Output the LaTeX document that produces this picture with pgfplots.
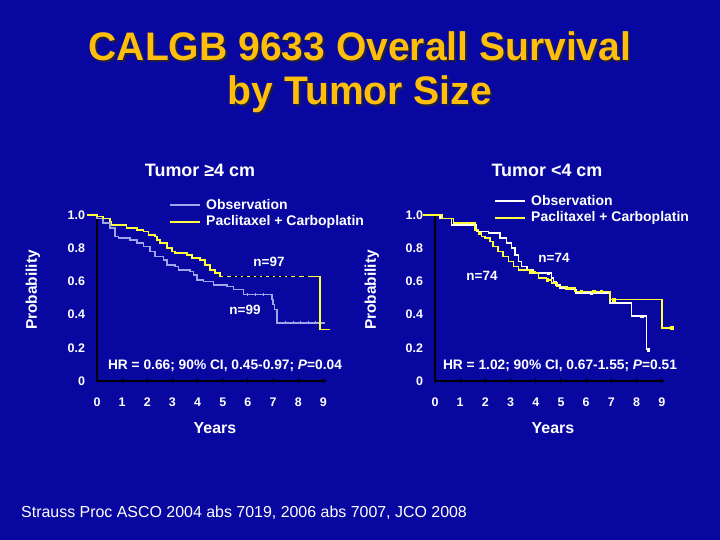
\documentclass[border=0pt]{standalone}
\usepackage{fontspec}
\setmainfont{Liberation Sans}
\usepackage{graphicx}
\usepackage{pgfplots}
\pgfplotsset{compat=1.18}
\definecolor{bg}{RGB}{8,8,160}
\definecolor{titlecol}{RGB}{255,190,10}
\definecolor{shadowcol}{RGB}{30,30,70}
\definecolor{obsL}{RGB}{160,165,235}
\definecolor{ylw}{RGB}{255,255,60}
\pgfplotsset{kmaxis/.style={
  scale only axis, width=228.9bp, height=166bp,
  xmin=0, xmax=9.1, ymin=0, ymax=1,
  axis x line=bottom, axis y line=left,
  axis line style={-, black, line width=1.3bp},
  xtick={0,1,2,3,4,5,6,7,8,9},
  xticklabels={0,1,2,3,4,5,6,7,8,9},
  ytick={0,0.2,0.4,0.6,0.8,1},
  yticklabels={0,0.2,0.4,0.6,0.8,1.0},
  tick label style={text=white, font=\bfseries\fontsize{12.5}{13}\selectfont},
  /pgf/number format/assume math mode=true,
  xtick style={black, line width=1bp},
  ytick style={draw=none},
  tick align=center, major tick length=5bp,
  xticklabel style={yshift=-11bp},
  yticklabel style={xshift=-6bp},
  clip=false,
}}
\begin{document}
\begin{tikzpicture}
\fill[bg] (0,0) rectangle (720bp,540bp);
\useasboundingbox (0,0) rectangle (720bp,540bp);
% title
\foreach \dx/\dy/\col in {2bp/-2bp/shadowcol, 0bp/0bp/titlecol}{
  \node[anchor=base, text=\col, inner sep=0] at ([xshift=\dx,yshift=\dy]360bp,479bp)
    {\scalebox{0.98}[1]{\fontsize{40}{40}\selectfont\bfseries CALGB 9633 Overall Survival}};
  \node[anchor=base, text=\col, inner sep=0] at ([xshift=\dx,yshift=\dy]360bp,435bp)
    {\scalebox{0.98}[1]{\fontsize{40}{40}\selectfont\bfseries by Tumor Size}};
}
% subtitles
\node[anchor=base, text=white, inner sep=0, font=\bfseries\fontsize{18}{18}\selectfont] at (200bp,363bp) {Tumor ≥4 cm};
\node[anchor=base, text=white, inner sep=0, font=\bfseries\fontsize{18}{18}\selectfont] at (547bp,363bp) {Tumor <4 cm};

% left axis
\begin{axis}[kmaxis, at={(97bp,159bp)}, anchor=south west]
\addplot[const plot, color=obsL, line width=1.6bp] coordinates {
(-0.4,1.0) (0,0.98) (0.25,0.95) (0.52,0.92) (0.72,0.87) (0.85,0.86) (1.31,0.85)
(1.58,0.83) (1.85,0.81) (2.11,0.78) (2.31,0.75) (2.64,0.73) (2.78,0.70) (3.11,0.69)
(3.24,0.67) (3.7,0.66) (3.84,0.64) (3.97,0.61) (4.24,0.60) (4.63,0.58) (5.17,0.57)
(5.43,0.55) (5.83,0.52) (6.96,0.49) (7.0,0.46) (7.05,0.43) (7.16,0.35) (9.08,0.35)};
\addplot[only marks, mark=|, mark size=1.6bp, obsL, line width=1bp] coordinates {
(6.0,0.52) (6.3,0.52) (6.6,0.52) (7.5,0.35) (7.8,0.35) (8.1,0.35) (8.4,0.35) (8.7,0.35)};
\addplot[const plot, color=ylw, line width=1.6bp] coordinates {
(-0.4,1.0) (0,0.99) (0.25,0.98) (0.52,0.96) (0.58,0.94) (1.18,0.92) (1.58,0.91)
(1.85,0.90) (2.04,0.88) (2.31,0.87) (2.38,0.85) (2.51,0.83) (2.78,0.80) (2.98,0.78)
(3.11,0.77) (3.57,0.76) (3.77,0.74) (4.1,0.73) (4.3,0.70) (4.5,0.67) (4.7,0.65)
(4.9,0.63) (8.86,0.31) (9.28,0.31)};
\addplot[only marks, mark=-, mark size=2bp, black, line width=1.4bp] coordinates {
(5.1,0.63) (5.4,0.63) (5.65,0.63) (5.9,0.63) (6.15,0.63) (6.4,0.63) (6.65,0.63)
(6.9,0.63) (7.15,0.63) (7.4,0.63) (7.65,0.63) (7.95,0.63) (8.3,0.63)};
\end{axis}

% right axis
\begin{axis}[kmaxis, width=229.3bp, at={(435bp,159bp)}, anchor=south west]
\addplot[const plot, color=white, line width=1.6bp] coordinates {
(-0.46,1.0) (0.2,0.98) (0.66,0.94) (1.65,0.90) (2.12,0.89) (2.58,0.86) (2.84,0.83)
(3.04,0.80) (3.17,0.76) (3.31,0.72) (3.44,0.69) (3.64,0.67) (3.9,0.65) (4.63,0.62)
(4.7,0.60) (4.8,0.58) (4.95,0.56) (5.3,0.55) (5.6,0.53) (6.94,0.47) (7.8,0.39)
(8.4,0.19) (8.46,0.19)};
\addplot[only marks, mark=square*, mark size=1.3bp, white] coordinates {
(4.5,0.65) (8.2,0.39) (8.46,0.19) (6.2,0.53)};
\addplot[const plot, color=ylw, line width=1.6bp] coordinates {
(-0.46,1.0) (0.27,0.98) (0.73,0.95) (1.59,0.91) (1.72,0.89) (1.85,0.87) (1.98,0.86)
(2.18,0.84) (2.31,0.81) (2.51,0.78) (2.71,0.75) (2.91,0.72) (3.11,0.69) (3.31,0.67)
(3.77,0.66) (3.97,0.65) (4.1,0.62) (4.43,0.61) (4.63,0.59) (4.83,0.57) (5.23,0.56)
(5.56,0.54) (6.94,0.49) (9.0,0.32) (9.39,0.32)};
\addplot[only marks, mark=square*, mark size=1.3bp, ylw] coordinates {
(1.75,0.89) (3.8,0.66) (4.45,0.61) (5.2,0.56) (5.3,0.56) (5.8,0.54) (6.3,0.54)
(6.6,0.54) (7.1,0.49) (9.39,0.32)};
\end{axis}

% axis labels
\node[text=white, font=\bfseries\fontsize{16}{16}\selectfont] at (215bp,112bp) {Years};
\node[text=white, font=\bfseries\fontsize{16}{16}\selectfont] at (553bp,112bp) {Years};
\node[text=white, rotate=90, font=\bfseries\fontsize{15.5}{16}\selectfont] at (33bp,250bp) {Probability};
\node[text=white, rotate=90, font=\bfseries\fontsize{15.5}{16}\selectfont] at (372bp,250bp) {Probability};

% legends
\draw[obsL, line width=1.6bp] (170bp,335bp) -- (200bp,335bp);
\draw[ylw, line width=1.6bp] (170bp,318bp) -- (200bp,318bp);
\node[anchor=west, text=white, inner sep=0, font=\bfseries\fontsize{14}{14}\selectfont] at (206bp,335bp) {Observation};
\node[anchor=west, text=white, inner sep=0, font=\bfseries\fontsize{14}{14}\selectfont] at (206bp,318bp) {Paclitaxel + Carboplatin};
\draw[white, line width=1.6bp] (495bp,339bp) -- (525bp,339bp);
\draw[ylw, line width=1.6bp] (495bp,322bp) -- (525bp,322bp);
\node[anchor=west, text=white, inner sep=0, font=\bfseries\fontsize{14}{14}\selectfont] at (531bp,339bp) {Observation};
\node[anchor=west, text=white, inner sep=0, font=\bfseries\fontsize{14}{14}\selectfont] at (531bp,322bp) {Paclitaxel + Carboplatin};

% n labels
\node[text=white, font=\bfseries\fontsize{13.5}{14}\selectfont] at (269bp,278bp) {n=97};
\node[text=white, font=\bfseries\fontsize{13.5}{14}\selectfont] at (245bp,230bp) {n=99};
\node[text=white, font=\bfseries\fontsize{13.5}{14}\selectfont] at (554bp,282bp) {n=74};
\node[text=white, font=\bfseries\fontsize{13.5}{14}\selectfont] at (482bp,264bp) {n=74};

% HR text
\node[text=white, font=\bfseries\fontsize{13.8}{14}\selectfont] at (225bp,174bp) {HR = 0.66; 90\% CI, 0.45-0.97; \textit{P}=0.04};
\node[text=white, font=\bfseries\fontsize{13.8}{14}\selectfont] at (560bp,174bp) {HR = 1.02; 90\% CI, 0.67-1.55; \textit{P}=0.51};

% footer
\node[anchor=west, text=white, inner sep=0, font=\fontsize{16}{16}\selectfont] at (21bp,27bp) {Strauss Proc ASCO 2004 abs 7019, 2006 abs 7007, JCO 2008};
\end{tikzpicture}
\end{document}
